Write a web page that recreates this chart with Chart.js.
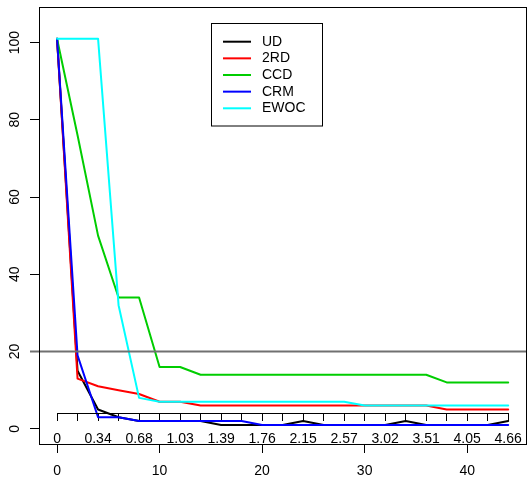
<!DOCTYPE html>
<html>
<head>
<meta charset="utf-8">
<script src="https://cdn.jsdelivr.net/npm/chart.js@4/dist/chart.umd.min.js"></script>
<style>
  html, body { margin: 0; padding: 0; background: #fff; overflow: hidden; }
  #wrap { position: relative; width: 531px; height: 478px; }
</style>
</head>
<body>
<div id="wrap"><canvas id="c" width="531" height="478"></canvas></div>
<script>
// Cohort positions along the trial (x) and the five design curves (y)
const xValues = [0, 2, 4, 6, 8, 10, 12, 14, 16, 18, 20, 22, 24, 26, 28, 30, 32, 34, 36, 38, 40, 42, 44];
const seriesNames = ['UD', '2RD', 'CCD', 'CRM', 'EWOC'];
const seriesColors = ['#000000', '#ff0000', '#00cd00', '#0000ff', '#00ffff'];
const udValues   = [101, 15, 5, 3, 2, 2, 2, 2, 1, 1, 1, 1, 2, 1, 1, 1, 1, 2, 1, 1, 1, 1, 2];
const rd2Values  = [101, 13, 11, 10, 9, 7, 7, 6, 6, 6, 6, 6, 6, 6, 6, 6, 6, 6, 6, 5, 5, 5, 5];
const ccdValues  = [101, 76, 50, 34, 34, 16, 16, 14, 14, 14, 14, 14, 14, 14, 14, 14, 14, 14, 14, 12, 12, 12, 12];
const crmValues  = [101, 19, 3, 3, 2, 2, 2, 2, 2, 2, 1, 1, 1, 1, 1, 1, 1, 1, 1, 1, 1, 1, 1];
const ewocValues = [101, 101, 101, 32, 8, 7, 7, 7, 7, 7, 7, 7, 7, 7, 7, 6, 6, 6, 6, 6, 6, 6, 6];

// Axis ticks and labels
const xTicks = [0, 10, 20, 30, 40];
const yTicks = [0, 20, 40, 60, 80, 100];
const innerTicks = [0, 2, 4, 6, 8, 10, 12, 14, 16, 18, 20, 22, 24, 26, 28, 30, 32, 34, 36, 38, 40, 42, 44];
const innerLabelPos = [0, 4, 8, 12, 16, 20, 24, 28, 32, 36, 40, 44];
const innerLabels = ['0', '0.34', '0.68', '1.03', '1.39', '1.76', '2.15', '2.57', '3.02', '3.51', '4.05', '4.66'];
const innerAxisLevel = 4;
const refLevel = 20;

const xRange = [-1.76, 45.76];
const yRange = [-4.2, 109.2];

const FONT = '"Liberation Sans", Arial, Helvetica, sans-serif';
const allValues = [udValues, rd2Values, ccdValues, crmValues, ewocValues];

const datasets = seriesNames.map((name, i) => ({
  label: name,
  data: xValues.map((x, j) => ({ x, y: allValues[i][j] })),
  borderColor: seriesColors[i],
  backgroundColor: seriesColors[i],
  borderWidth: 2,
  pointRadius: 0,
  tension: 0,
  fill: false,
  borderCapStyle: 'round',
  borderJoinStyle: 'round',
  order: seriesNames.length - i,
  xAxisID: 'x',
  yAxisID: 'y'
}));

const tickGrid = (len) => ({
  display: true,
  drawOnChartArea: false,
  drawTicks: true,
  tickLength: len,
  color: '#000',
  lineWidth: 1
});

const decor = {
  id: 'decor',
  afterDatasetsDraw(chart) {
    const { ctx, chartArea: a, scales: { x, y } } = chart;
    ctx.save();
    // horizontal reference line
    const py = y.getPixelForValue(refLevel);
    ctx.strokeStyle = '#707070';
    ctx.lineWidth = 2;
    ctx.beginPath();
    ctx.moveTo(a.left - 9, py);
    ctx.lineTo(a.right, py);
    ctx.stroke();
    ctx.restore();
  },
  afterDraw(chart) {
    const { ctx, chartArea: a, scales: { x, y } } = chart;
    ctx.save();
    // inner axis line spanning first to last tick
    const iy = Math.round(y.getPixelForValue(innerAxisLevel)) + 0.5;
    ctx.strokeStyle = '#000';
    ctx.lineWidth = 1;
    ctx.beginPath();
    ctx.moveTo(x.getPixelForValue(innerTicks[0]), iy);
    ctx.lineTo(x.getPixelForValue(innerTicks[innerTicks.length - 1]), iy);
    ctx.stroke();

    // plot frame
    ctx.strokeRect(Math.round(a.left) + 0.5, Math.round(a.top) + 0.5,
                   Math.round(a.right - a.left), Math.round(a.bottom - a.top) - 1);

    // rotated y tick labels
    ctx.fillStyle = '#000';
    ctx.font = '14px ' + FONT;
    ctx.textAlign = 'center';
    ctx.textBaseline = 'alphabetic';
    yTicks.forEach(v => {
      ctx.save();
      ctx.translate(18.5, y.getPixelForValue(v));
      ctx.rotate(-Math.PI / 2);
      ctx.fillText(String(v), 0, 0);
      ctx.restore();
    });

    // legend
    const lx = 211.5, ly = 23.5, lw = 111, lh = 102.5;
    ctx.fillStyle = '#fff';
    ctx.fillRect(lx, ly, lw, lh);
    ctx.strokeStyle = '#000';
    ctx.lineWidth = 1;
    ctx.strokeRect(lx, ly, lw, lh);
    ctx.textAlign = 'left';
    ctx.textBaseline = 'middle';
    chart.data.datasets.forEach((ds, i) => {
      const ry = 41.7 + i * 16.65;
      ctx.strokeStyle = ds.borderColor;
      ctx.lineWidth = 2;
      ctx.beginPath();
      ctx.moveTo(223, ry);
      ctx.lineTo(251, ry);
      ctx.stroke();
      ctx.fillStyle = '#000';
      ctx.fillText(ds.label, 262, ry);
    });
    ctx.restore();
  }
};

new Chart(document.getElementById('c'), {
  type: 'line',
  data: { datasets },
  options: {
    responsive: false,
    animation: false,
    devicePixelRatio: 1,
    layout: { padding: { top: 7, right: 2, left: 0, bottom: 0 } },
    plugins: { legend: { display: false }, tooltip: { enabled: false } },
    scales: {
      x: {
        type: 'linear',
        position: 'bottom',
        min: xRange[0],
        max: xRange[1],
        afterBuildTicks: s => { s.ticks = xTicks.map(v => ({ value: v })); },
        afterFit: s => { s.height = 33; },
        grid: tickGrid(8),
        border: { display: false },
        ticks: {
          color: '#000',
          font: { family: FONT, size: 14 },
          padding: 10,
          maxRotation: 0,
          autoSkip: false,
          callback: v => String(v)
        }
      },
      x2: {
        type: 'linear',
        axis: 'x',
        position: { y: innerAxisLevel },
        min: xRange[0],
        max: xRange[1],
        afterBuildTicks: s => { s.ticks = innerTicks.map(v => ({ value: v })); },
        grid: tickGrid(8),
        border: { display: false },
        ticks: {
          color: '#000',
          font: { family: FONT, size: 14 },
          padding: 9,
          maxRotation: 0,
          autoSkip: false,
          callback: v => {
            const k = innerLabelPos.indexOf(v);
            return k >= 0 ? innerLabels[k] : '';
          }
        }
      },
      y: {
        type: 'linear',
        position: 'left',
        min: yRange[0],
        max: yRange[1],
        afterBuildTicks: s => { s.ticks = yTicks.map(v => ({ value: v })); },
        afterFit: s => { s.width = 39; },
        grid: tickGrid(9),
        border: { display: false },
        ticks: { display: false }
      }
    }
  },
  plugins: [decor]
});
</script>
</body>
</html>
